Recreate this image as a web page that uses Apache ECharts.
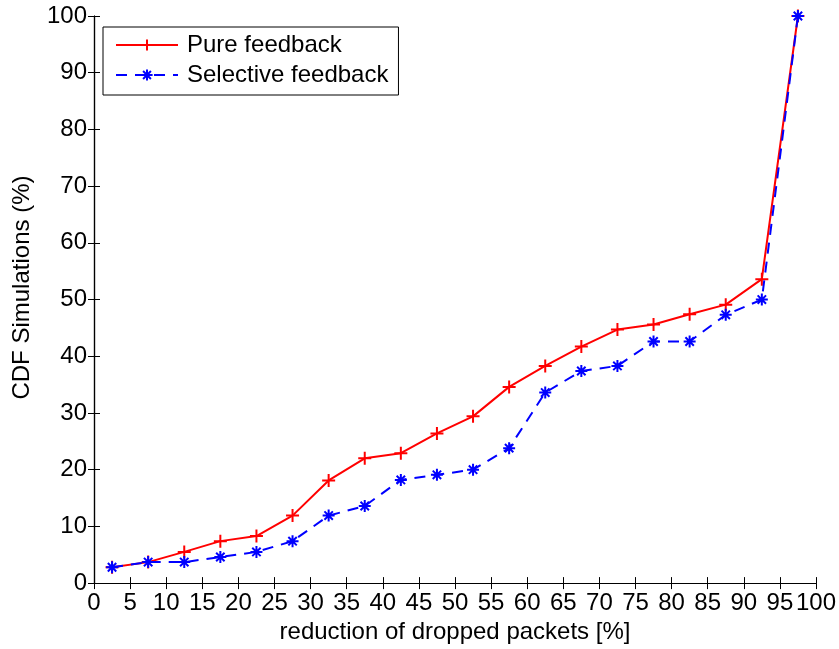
<!DOCTYPE html>
<html>
<head>
<meta charset="utf-8">
<script src="https://cdn.jsdelivr.net/npm/echarts@6/dist/echarts.min.js"></script>
<style>
  html, body { margin: 0; padding: 0; background: #fff; }
  #chart { width: 839px; height: 649px; }
</style>
</head>
<body>
<div id="chart"></div>
<script>
// Reduction of dropped packets (bin centres, %)
const reduction = [2.5, 7.5, 12.5, 17.5, 22.5, 27.5, 32.5, 37.5, 42.5, 47.5,
                   52.5, 57.5, 62.5, 67.5, 72.5, 77.5, 82.5, 87.5, 92.5, 97.5];
// CDF of simulations (%)
const pureFeedback = [2.8, 3.7, 5.5, 7.4, 8.3, 11.9, 18.1, 22.0, 22.9, 26.4,
                      29.4, 34.6, 38.3, 41.7, 44.7, 45.6, 47.4, 49.1, 53.6, 100];
const selectiveFeedback = [2.8, 3.7, 3.7, 4.6, 5.5, 7.4, 11.9, 13.6, 18.2, 19.1,
                           20.0, 23.8, 33.6, 37.4, 38.3, 42.6, 42.6, 47.3, 50.0, 100];
const xTicks = { min: 0, max: 100, interval: 5 };
const yTicks = { min: 0, max: 100, interval: 10 };

const FONT = 'Liberation Sans, Arial, Helvetica, sans-serif';
const FS = 24;
const plusPath = 'path://M0,-1L0,1M-1,0L1,0';
const starPath = 'path://M0,-1L0,1M-1,0L1,0M-0.7,-0.7L0.7,0.7M-0.7,0.7L0.7,-0.7';

function pairs(xs, ys) { return xs.map((x, i) => [x, ys[i]]); }

const axisCommon = {
  type: 'value',
  axisLine: { show: true, lineStyle: { color: '#000', width: 1.2 } },
  axisTick: { show: true, inside: true, length: 6, lineStyle: { color: '#000', width: 1 } },
  splitLine: { show: false },
  axisLabel: { color: '#000', fontSize: FS, fontFamily: FONT },
  nameTextStyle: { color: '#000', fontSize: FS, fontFamily: FONT }
};

const chart = echarts.init(document.getElementById('chart'), null, { renderer: 'canvas' });
chart.setOption({
  backgroundColor: '#fff',
  animation: false,
  grid: { left: 94, right: 22, top: 16, bottom: 65, containLabel: false },
  legend: {
    left: 103, top: 27,
    orient: 'vertical',
    backgroundColor: '#fff',
    borderColor: '#000', borderWidth: 1,
    borderRadius: 0,
    padding: [6, 10, 8, 12],
    itemWidth: 62, itemHeight: 14, itemGap: 6,
    textStyle: { color: '#000', fontSize: FS, fontFamily: FONT, padding: [0, 0, 0, 4] },
    data: ['Pure feedback', 'Selective feedback']
  },
  xAxis: [
    Object.assign({}, axisCommon, xTicks, {
      position: 'bottom',
      name: 'reduction of dropped packets [%]',
      nameLocation: 'middle', nameGap: 36,
      axisLabel: Object.assign({}, axisCommon.axisLabel, { margin: 8 })
    }),
    Object.assign({}, axisCommon, xTicks, {
      position: 'top', axisLabel: { show: false }
    })
  ],
  yAxis: [
    Object.assign({}, axisCommon, yTicks, {
      position: 'left',
      name: 'CDF Simulations (%)',
      nameLocation: 'middle', nameGap: 60,
      nameTextStyle: Object.assign({}, axisCommon.nameTextStyle, { padding: [0, 0, 0, 24] }),
      axisLabel: Object.assign({}, axisCommon.axisLabel, { margin: 7 })
    }),
    Object.assign({}, axisCommon, yTicks, {
      position: 'right', axisLabel: { show: false }
    })
  ],
  series: [
    {
      name: 'Pure feedback',
      type: 'line',
      xAxisIndex: 0, yAxisIndex: 0,
      data: pairs(reduction, pureFeedback),
      lineStyle: { color: '#ff0000', width: 2 },
      symbol: plusPath, symbolSize: 13, showAllSymbol: true,
      itemStyle: { color: '#ff0000', borderColor: '#ff0000', borderWidth: 2 },
      z: 3
    },
    {
      name: 'Selective feedback',
      type: 'line',
      xAxisIndex: 0, yAxisIndex: 0,
      data: pairs(reduction, selectiveFeedback),
      lineStyle: { color: '#0000ff', width: 2, type: [11, 8] },
      symbol: starPath, symbolSize: 12, showAllSymbol: true,
      itemStyle: { color: '#0000ff', borderColor: '#0000ff', borderWidth: 2 },
      z: 4
    }
  ]
});
</script>
</body>
</html>
